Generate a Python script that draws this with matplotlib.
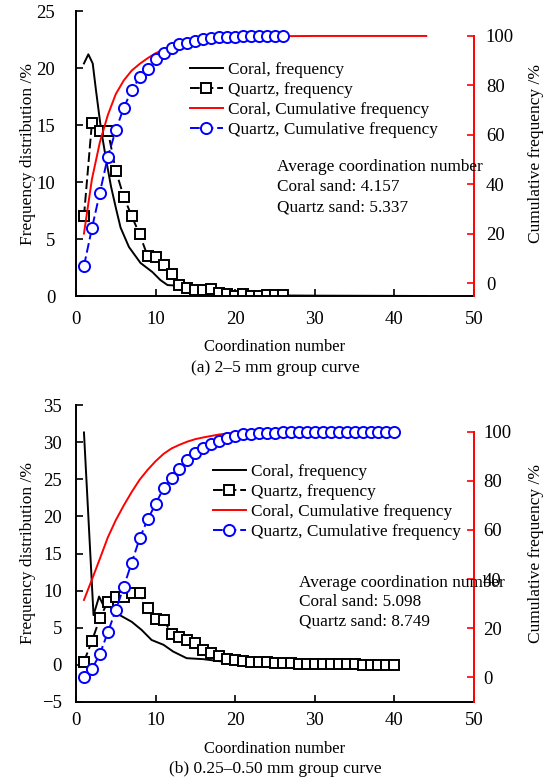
import matplotlib

matplotlib.use("Agg")

import matplotlib.pyplot as plt
from matplotlib.ticker import MultipleLocator

plt.rcParams["font.family"] = ["Liberation Serif", "DejaVu Serif"]

# ---- (a) 2-5 mm group ----
a_coral_x = [1, 1.55, 2.1, 2.5, 3.15, 3.8, 4.4, 5.05, 5.6, 6.65, 8.1, 9.6, 10.6, 11.5,
             13.2, 15, 17, 20, 25, 30, 35, 40, 44]
a_coral_freq = [20.4, 21.2, 20.4, 18.1, 14.6, 11.9, 9.6, 7.6, 6.0, 4.3, 2.9, 2.1, 1.4, 0.96,
                0.88, 0.6, 0.35, 0.15, 0.05, 0.03, 0.02, 0.01, 0.0]
a_coral_cum_x = [1, 2, 3, 4, 5, 6, 7, 8, 9, 10, 11, 12, 13, 14, 15, 16, 17, 18, 19, 20,
                 22, 25, 30, 35, 40, 44]
a_coral_cum = [20, 42, 57, 68, 76.5, 82, 86, 88.7, 91, 93, 94.5, 95.7, 96.7, 97.5, 98.1,
               98.6, 99.0, 99.3, 99.5, 99.7, 99.85, 99.9, 100, 100, 100, 100]
a_quartz_x = list(range(1, 27))
a_quartz_freq = [7.0, 15.2, 14.5, 14.5, 11.0, 8.7, 7.0, 5.4, 3.5, 3.4, 2.7, 1.9, 0.96, 0.7,
                 0.5, 0.5, 0.6, 0.3, 0.18, 0.0, 0.18, 0.0, 0.0, 0.05, 0.05, 0.05]
a_quartz_cum = [6.9, 22.1, 36.6, 51.1, 61.9, 70.9, 78.1, 83.2, 86.8, 90.5, 93.2, 95.3, 96.7,
                97.2, 97.9, 98.6, 99.0, 99.4, 99.7, 99.7, 99.8, 99.9, 99.9, 100, 100, 100]
a_note = ["Average coordination number", "Coral sand: 4.157", "Quartz sand: 5.337"]

# ---- (b) 0.25-0.50 mm group ----
b_coral_x = [1, 2.2, 2.9, 3.4, 3.9, 4.6, 5.5, 7.0, 8.25, 9.5, 11, 12.2, 13.9, 16, 18, 20,
             25, 30, 35, 40]
b_coral_freq = [31.3, 6.7, 9.2, 8.1, 8.6, 7.3, 6.7, 5.8, 4.7, 3.35, 2.7, 1.8, 0.9, 0.77, 0.5,
                0.35, 0.2, 0.1, 0.05, 0.03]
b_coral_cum_x = [1, 2, 3, 4, 5, 6, 7, 8, 9, 10, 11, 12, 13, 14, 15, 16, 17, 18, 19, 20,
                 22, 25, 30, 35, 40]
b_coral_cum = [31.5, 39.8, 48.3, 57, 64, 70, 75.5, 80.5, 84.5, 88, 91, 93.2, 94.7, 96, 97,
               97.7, 98.3, 98.9, 99.3, 99.6, 99.8, 99.9, 100, 100, 100]
b_quartz_x = list(range(1, 41))
b_quartz_freq = [0.44, 3.2, 6.3, 8.5, 9.1, 9.2, 9.7, 9.65, 7.6, 6.2, 6.1, 4.2, 3.8, 3.4, 2.9,
                 2.0, 1.6, 1.2, 0.85, 0.7, 0.55, 0.45, 0.38, 0.32, 0.28, 0.24, 0.2, 0.17,
                 0.14, 0.12, 0.1, 0.09, 0.08, 0.07, 0.06, 0.05, 0.05, 0.04, 0.04, 0.03]
b_quartz_cum = [0, 3.3, 9.5, 18.3, 27.4, 36.9, 46.7, 56.6, 64.3, 70.6, 77, 81, 84.8, 88.5,
                91.2, 93.2, 95, 96.3, 97.3, 98.2, 98.9, 99.2, 99.4, 99.6, 99.7, 99.8, 99.85,
                99.9, 99.9, 99.95, 100, 100, 100, 100, 100, 100, 100, 100, 100, 100]
b_note = ["Average coordination number", "Coral sand: 5.098", "Quartz sand: 8.749"]

labels = ["Coral, frequency", "Quartz, frequency", "Coral, Cumulative frequency",
          "Quartz, Cumulative frequency"]

TICK_FS = 13.5
LABEL_FS = 12.5
TEXT_FS = 12.4


def panel(rect, coral_x, coral_freq, coral_cum_x, coral_cum, quartz_x, quartz_freq,
          quartz_cum, note, caption, ylim, ystep, ylim2, ypad, xpad, ypad2,
          leg_xy, note_xy, note_step, cap_y, xlab_pad):
    ax = fig.add_axes(rect)
    ax2 = ax.twinx()

    ax.plot(coral_x, coral_freq, color="black", lw=1.4)
    ax.plot(quartz_x, quartz_freq, color="black", lw=1.4, ls=(0, (5, 2)),
            marker="s", ms=7, mfc="white", mec="black", mew=1.4)
    ax2.plot(coral_cum_x, coral_cum, color="red", lw=1.4)
    ax2.plot(quartz_x, quartz_cum, color="blue", lw=1.4, ls=(0, (5, 2)),
             marker="o", ms=8, mfc="white", mec="blue", mew=1.4)

    ax.set_xlim(0, 50)
    ax.set_ylim(*ylim)
    ax.xaxis.set_major_locator(MultipleLocator(10))
    ax.yaxis.set_major_locator(MultipleLocator(ystep))
    ax2.set_ylim(*ylim2)
    ax2.set_yticks(range(0, 101, 20))

    ax.spines["top"].set_visible(False)
    ax2.spines["top"].set_visible(False)
    ax2.spines["left"].set_visible(False)
    ax2.spines["bottom"].set_visible(False)
    ax.spines["right"].set_visible(False)
    ax2.spines["right"].set_color("red")
    ax2.spines["right"].set_linewidth(1.4)
    ax2.spines["right"].set_bounds(ylim2[0], 100)
    ax.spines["left"].set_linewidth(1.4)
    ax.spines["bottom"].set_linewidth(1.4)

    ax.tick_params(axis="y", direction="in", length=5, width=1.2, labelsize=TICK_FS, pad=ypad)
    ax.tick_params(axis="x", direction="in", length=5, width=1.2, labelsize=TICK_FS, pad=xpad)
    ax2.tick_params(axis="y", direction="in", length=5, width=1.2, color="red",
                    labelsize=TICK_FS, pad=ypad2)

    ax.set_ylabel("Frequency distribution /%", fontsize=LABEL_FS)
    ax.yaxis.set_label_coords(-0.10, 0.5)
    ax2.set_ylabel("Cumulative frequency /%", fontsize=LABEL_FS)
    ax2.yaxis.set_label_coords(1.136, 0.5)
    ax.set_xlabel("Coordination number", fontsize=TEXT_FS - 0.5, labelpad=xlab_pad)

    handles = ax.get_lines() + ax2.get_lines()
    ax2.legend(handles, labels, loc="upper left", bbox_to_anchor=leg_xy, frameon=False,
               fontsize=TEXT_FS, borderpad=0, borderaxespad=0, handlelength=1.9,
               handletextpad=0.3, labelspacing=0.22)
    for i, line in enumerate(note):
        ax2.text(note_xy[0], note_xy[1] - i * note_step, line, transform=ax.transAxes,
                 fontsize=TEXT_FS, va="center", ha="left")
    fig.text(0.5, cap_y, caption, fontsize=LABEL_FS, ha="center", va="center")
    return ax, ax2


fig = plt.figure(figsize=(5.5, 7.82), dpi=100)

panel([76 / 550, 1 - 296 / 782, 398 / 550, 285 / 782],
      a_coral_x, a_coral_freq, a_coral_cum_x, a_coral_cum, a_quartz_x, a_quartz_freq,
      a_quartz_cum, a_note, "(a) 2\u20135 mm group curve",
      (0, 25), 5, (-5.26, 110.1), 15, 11, 8.5,
      (0.286, 0.82), (0.505, 0.4526), 0.0702, 1 - 368 / 782, 8)

panel([76 / 550, 1 - 702 / 782, 398 / 550, 297 / 782],
      b_coral_x, b_coral_freq, b_coral_cum_x, b_coral_cum, b_quartz_x, b_quartz_freq,
      b_quartz_cum, b_note, "(b) 0.25\u20130.50 mm group curve",
      (-5, 35), 5, (-10.06, 110.9), 10, 7, 6.5,
      (0.344, 0.80), (0.56, 0.4007), 0.064, 1 - 769 / 782, 9)

fig.savefig("out.png", dpi=100)
